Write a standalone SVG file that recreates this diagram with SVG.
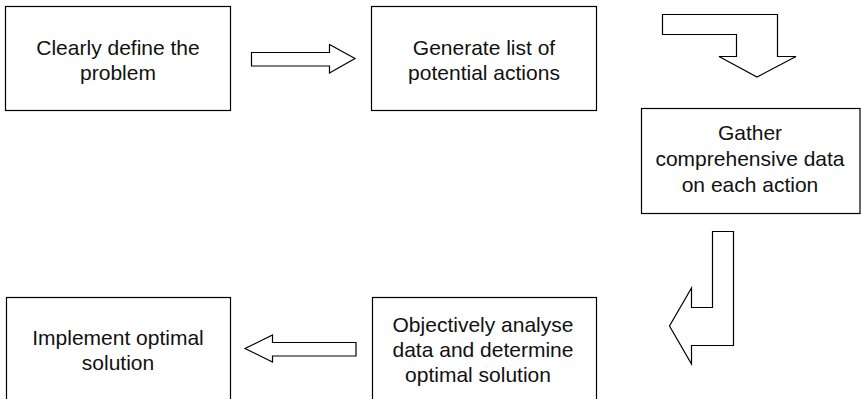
<svg xmlns="http://www.w3.org/2000/svg" width="861" height="399" viewBox="0 0 861 399">
<style>
.box{fill:#fff;stroke:#000;stroke-width:1.2}
.arr{fill:#fff;stroke:#000;stroke-width:1.2;stroke-linejoin:miter}
text{font-family:"Liberation Sans",Arial,Helvetica,sans-serif;font-size:21px;fill:#111;text-anchor:middle}
</style>
<rect width="861" height="399" fill="#fff"/>
<g id="n1"><rect class="box" x="5.5" y="6.5" width="225" height="104"/>
<text x="118" y="54.5">Clearly define the</text><text x="118" y="80">problem</text></g>
<g id="n2"><rect class="box" x="371.5" y="6.5" width="225" height="104"/>
<text x="484" y="54.5">Generate list of</text><text x="484" y="80">potential actions</text></g>
<g id="n3"><rect class="box" x="641.5" y="108.5" width="218.5" height="105"/>
<text x="750" y="140">Gather</text><text x="750" y="166">comprehensive data</text><text x="750" y="192">on each action</text></g>
<g id="n4"><rect class="box" x="372.5" y="297.5" width="224" height="110"/>
<text x="483" y="331.5">Objectively analyse</text><text x="483" y="356.5">data and determine</text><text x="478" y="381.5">optimal solution</text></g>
<g id="n5"><rect class="box" x="6.5" y="297.5" width="224" height="110"/>
<text x="118" y="345">Implement optimal</text><text x="118" y="370">solution</text></g>
<g id="connectors">
<path class="arr" d="M251.5,52.5 H329.5 V44.5 L355,58.5 L329.5,73 V66 H251.5 Z"/>
<path class="arr" d="M662.5,14.5 H777.5 V56.5 H796 L757,77 L719,56.5 H736.5 V34.5 H662.5 Z"/>
<path class="arr" d="M712.5,231.5 H733.5 V345.5 H691.5 V364 L669.5,326 L691.5,288 V307.5 H712.5 Z"/>
<path class="arr" d="M356,342.5 H272.5 V335 L245,348.5 L272.5,362 V356 H356 Z"/>
</g>
</svg>
